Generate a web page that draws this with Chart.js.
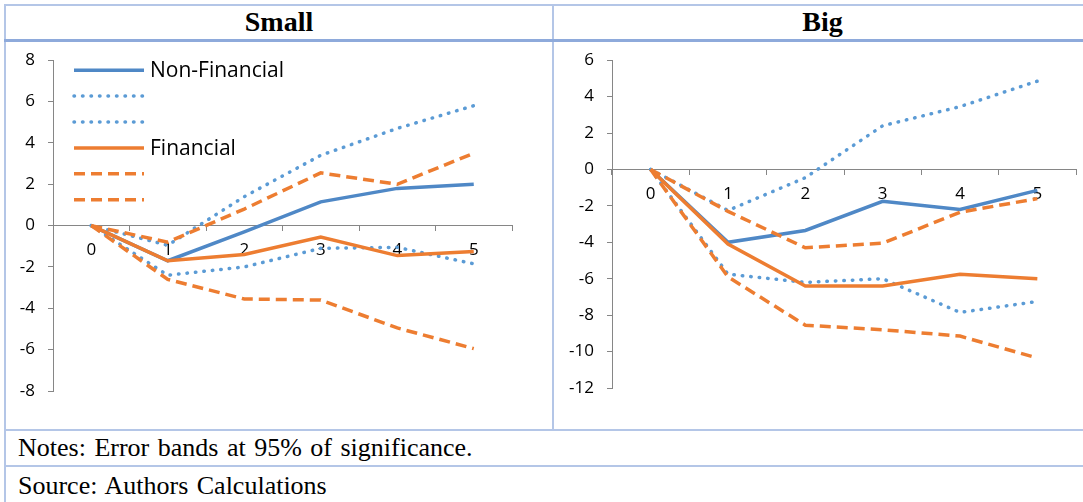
<!DOCTYPE html>
<html>
<head>
<meta charset="utf-8">
<script src="https://cdn.jsdelivr.net/npm/chart.js@4.4.0/dist/chart.umd.min.js"></script>
<style>
  body { margin: 0; background: #fff; overflow: hidden; }
  #page { position: relative; width: 1083px; height: 502px; overflow: hidden; font-family: "Liberation Serif", "Times New Roman", serif; }
  .ln { position: absolute; background: #b4c6e7; }
  .title { position: absolute; top: 5px; height: 34px; line-height: 34px; text-align: center; font-weight: bold; font-size: 28px; }
  .note { position: absolute; left: 18px; font-size: 26px; word-spacing: 2px; }
  canvas { position: absolute; }
</style>
</head>
<body>
<div id="page">
  <div class="ln" style="left:4px;top:4px;width:1079px;height:2px"></div>
  <div class="ln" style="left:4px;top:4px;width:2px;height:498px"></div>
  <div class="ln" style="left:552px;top:4px;width:2px;height:426px"></div>
  <div class="ln" style="left:4px;top:39px;width:1079px;height:3px;background:#8eaadb"></div>
  <div class="ln" style="left:4px;top:429px;width:1079px;height:2px"></div>
  <div class="ln" style="left:4px;top:465px;width:1079px;height:2px"></div>

  <div class="title" style="left:6px;width:546px">Small</div>
  <div class="title" style="left:554px;width:537px">Big</div>

  <canvas id="small" width="546" height="390" style="left:6px;top:37px"></canvas>
  <canvas id="big" width="529" height="390" style="left:554px;top:37px"></canvas>

  <div class="note" style="top:431px;line-height:34px">Notes: Error bands at 95% of significance.</div>
  <div class="note" style="top:467px;line-height:38px">Source: Authors Calculations</div>
</div>
<script>
const categories = ['0', '1', '2', '3', '4', '5'];
const seriesNames = ['Non-Financial', '', '', 'Financial', '', ''];

// Small firms
const nonFinSmall   = [0, -1.7, -0.3, 1.15, 1.8, 2.0];
const nonFinSmallUp = [0, -0.95, 1.4, 3.4, 4.7, 5.8];
const nonFinSmallLo = [0, -2.4, -2.0, -1.1, -1.05, -1.85];
const finSmall      = [0, -1.7, -1.4, -0.55, -1.45, -1.25];
const finSmallUp    = [0, -0.8, 0.8, 2.55, 2.0, 3.5];
const finSmallLo    = [0, -2.6, -3.55, -3.6, -4.95, -5.95];

// Big firms
const nonFinBig   = [0, -4.0, -3.35, -1.75, -2.2, -1.15];
const nonFinBigUp = [0, -2.25, -0.45, 2.4, 3.45, 4.85];
const nonFinBigLo = [0, -5.75, -6.2, -6.0, -7.85, -7.25];
const finBig      = [0, -4.1, -6.4, -6.4, -5.75, -6.0];
const finBigUp    = [0, -2.3, -4.3, -4.05, -2.35, -1.6];
const finBigLo    = [0, -5.9, -8.55, -8.8, -9.15, -10.35];

const BLUE = '#4f88c6';
const BLUE_DOT = '#5b9bd5';
const ORANGE = '#ed7d31';
const AXIS = '#868686';
const tickFont = { family: 'Open Sans', size: 17 };

const styles = [
  { color: BLUE, dash: [], cap: 'butt' },
  { color: BLUE_DOT, dash: [0.5, 8], cap: 'round' },
  { color: BLUE_DOT, dash: [0.5, 8], cap: 'round' },
  { color: ORANGE, dash: [], cap: 'butt' },
  { color: ORANGE, dash: [11, 6], cap: 'butt' },
  { color: ORANGE, dash: [11, 6], cap: 'butt' },
];

// legend drawn inside the plot, Excel style
const insideLegend = {
  id: 'insideLegend',
  afterDraw(chart, args, opts) {
    if (!opts.show) return;
    const { ctx, chartArea } = chart;
    chart.data.datasets.forEach((ds, i) => {
      const x = chartArea.left + 20;
      const y = chartArea.top + 10 + i * 25.9;
      ctx.save();
      ctx.strokeStyle = ds.borderColor;
      ctx.lineWidth = ds.borderWidth;
      ctx.setLineDash(ds.borderDash);
      ctx.lineCap = ds.borderCapStyle;
      ctx.beginPath();
      ctx.moveTo(x + 1, y);
      ctx.lineTo(x + 71, y);
      ctx.stroke();
      if (ds.label) {
        ctx.fillStyle = '#000';
        ctx.font = '21px "Open Sans"';
        ctx.textBaseline = 'middle';
        ctx.fillText(ds.label, x + 77, y + 1);
      }
      ctx.restore();
    });
  },
};

function makeChart(id, series, yMin, yMax, padding, showLegend) {
  return new Chart(document.getElementById(id), {
    type: 'line',
    data: {
      labels: categories,
      datasets: series.map((data, i) => ({
        label: seriesNames[i],
        data,
        borderColor: styles[i].color,
        borderDash: styles[i].dash,
        borderCapStyle: styles[i].cap,
        borderWidth: 3.5,
        pointRadius: 0,
        tension: 0,
        fill: false,
        order: series.length - i,
      })),
    },
    options: {
      responsive: false,
      animation: false,
      devicePixelRatio: 1,
      layout: { padding },
      plugins: {
        legend: { display: false },
        tooltip: { enabled: false },
        insideLegend: { show: showLegend },
      },
      scales: {
        x: {
          offset: true,
          position: { y: 0 },
          ticks: { color: '#000', font: tickFont, padding: 9, maxRotation: 0 },
          grid: { offset: true, drawOnChartArea: false, tickLength: 5, color: AXIS },
          border: { color: AXIS },
        },
        y: {
          min: yMin,
          max: yMax,
          ticks: { stepSize: 2, color: '#000', font: tickFont, padding: 13 },
          grid: { drawOnChartArea: false, tickLength: 5, color: AXIS },
          border: { color: AXIS },
          afterFit(scale) { scale.width = 45; },
        },
      },
    },
    plugins: [insideLegend],
  });
}

makeChart('small',
  [nonFinSmall, nonFinSmallUp, nonFinSmallLo, finSmall, finSmallUp, finSmallLo],
  -8, 8, { left: 2, right: 40, top: 23, bottom: 36 }, true);

makeChart('big',
  [nonFinBig, nonFinBigUp, nonFinBigLo, finBig, finBigUp, finBigLo],
  -12, 6, { left: 13, right: 7, top: 23, bottom: 39 }, false);
</script>
</body>
</html>
